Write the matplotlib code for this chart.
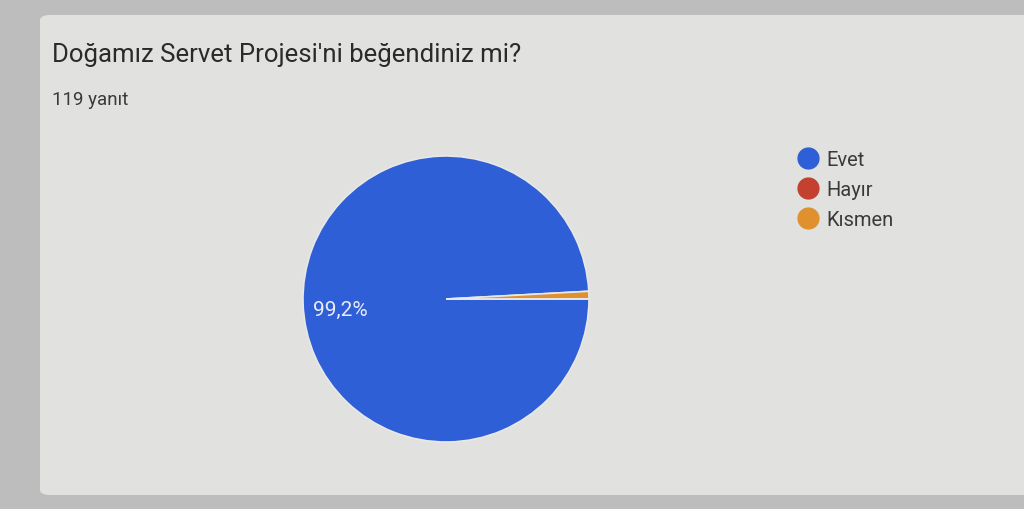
import matplotlib
matplotlib.use("Agg")
import matplotlib.pyplot as plt
from matplotlib.lines import Line2D
from matplotlib.patches import FancyBboxPatch

plt.rcParams['font.family'] = ['Roboto', 'DejaVu Sans']

# data
labels = ['Evet', 'Hayır', 'Kısmen']
counts = [118, 0, 1]
colors = ['#2f5fd6', '#c4402f', '#e0912e']
title = "Doğamız Servet Projesi'ni beğendiniz mi?"
subtitle = "119 yanıt"

W, H = 1024, 510
fig = plt.figure(figsize=(W / 100, H / 100), dpi=100)
fig.patch.set_facecolor('#bdbdbd')

# the card (photo of a screen)
card = FancyBboxPatch((40 / W, 14 / H), 1.05, 480 / H,
                      boxstyle="round,pad=0,rounding_size=0.01",
                      transform=fig.transFigure, facecolor='#e1e1df',
                      edgecolor='none', zorder=-5)
fig.patches.append(card)

fig.text(52 / W, 1 - 55 / H, title, fontsize=18.5, color='#2a2a2a', va='center')
fig.text(52 / W, 1 - 100 / H, subtitle, fontsize=13.5, color='#3a3a3a', va='center')

# pie
cx, cy, r = 446, 300, 143
ax = fig.add_axes([(cx - r) / W, (H - cy - r) / H, 2 * r / W, 2 * r / H])
ax.set_facecolor('none')


def pct_label(p):
    return f"{p:.1f}%".replace('.', ',') if p > 5 else ''


wedges, _, autotexts = ax.pie(counts, colors=colors, startangle=3.1,
                              autopct=pct_label, pctdistance=0.74,
                              wedgeprops=dict(edgecolor='#e8e8e8', linewidth=1.2))
for t in autotexts:
    t.set_color('#e8ecf8')
    t.set_fontsize(15)
    x, y = t.get_position()
    t.set_position((x, y - 0.05))
ax.set_xlim(-1.0, 1.0)
ax.set_ylim(-1.0, 1.0)
ax.set_aspect('equal')

handles = [Line2D([], [], marker='o', linestyle='none', markersize=15,
                  markerfacecolor=c, markeredgecolor=c) for c in colors]
fig.legend(handles, labels, loc='upper left', bbox_to_anchor=(776 / W, 1 - 133 / H),
           frameon=False, fontsize=14.5, labelcolor='#3a3a3a',
           handletextpad=0.2, labelspacing=0.55, handlelength=1.4)

fig.savefig('out.png', dpi=100, facecolor=fig.get_facecolor())
